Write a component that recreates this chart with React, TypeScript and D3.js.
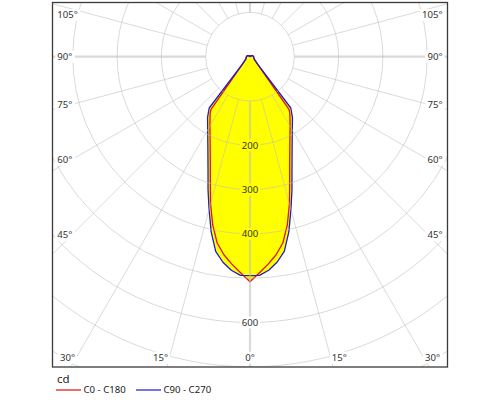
import { useEffect, useRef } from "react";
import * as d3 from "d3";

// Luminous intensity distribution, gamma in degrees from nadir, values in cd
const gammaC0 = [0, 2.5, 5, 7.5, 10, 12.5, 15, 17.5, 20, 25, 30, 35, 36.5, 45, 60, 75, 90, 105, 120, 135, 150, 165, 180];
const intensityC0 = [508, 488, 470, 451, 427, 389, 344, 298, 262, 213, 181, 157, 148, 24, 11, 9, 8, 7, 5, 3, 2, 1, 0];
const gammaC90 = [0, 2.5, 5, 7.5, 10, 12.5, 15, 17.5, 20, 25, 30, 35, 38.5, 45, 60, 75, 90, 105, 120, 135, 150, 165, 180];
const intensityC90 = [494, 494, 484, 468, 446, 405, 357, 315, 277, 225, 191, 167, 148, 26, 11, 9, 8, 7, 5, 3, 2, 1, 0];

const seriesNames = ["C0 - C180", "C90 - C270"];
const seriesColors = ["#e01010", "#1c1cd0"];

const ringValues = [100, 200, 300, 400, 500, 600, 700, 800];
const ringLabels = [200, 300, 400, 600];
const spokeAngles = [0, 15, 30, 45, 60, 75, 90, 105, 120, 135, 150, 165, 180, 195, 210, 225, 240, 255, 270, 285, 300, 315, 330, 345];
const angleLabels = [0, 15, 30, 45, 60, 75, 90, 105];
const unitLabel = "cd";

const FONT = "Tahoma, 'Noto Sans', sans-serif";

type Label = { text: string; x: number; y: number; anchor: "start" | "middle" | "end" };

export default function App() {
  const svgRef = useRef<SVGSVGElement | null>(null);

  useEffect(() => {
    if (!svgRef.current) return;
    const width = 500;
    const height = 400;
    const frame = { left: 52.5, top: 2.5, right: 447.5, bottom: 367 };
    const cx = 250;
    const cy = 56.7;
    const rad = Math.PI / 180;

    const svg = d3.select(svgRef.current);
    svg.selectAll("*").remove();
    svg.attr("width", width).attr("height", height);

    const r = d3.scaleLinear().domain([0, 100]).range([0, 44.3]);

    // labels first, grid gets masked around them
    const labels: Label[] = [];
    ringLabels.forEach((v) => labels.push({ text: String(v), x: cx, y: cy + r(v), anchor: "middle" }));
    angleLabels.forEach((a) => {
      const t = Math.tan(a * rad);
      if (a === 0) {
        labels.push({ text: "0°", x: cx, y: cy + 301, anchor: "middle" });
        return;
      }
      [-1, 1].forEach((side) => {
        if (a > 31) {
          const y = Math.max(cy + 178 / t, 15);
          labels.push({
            text: `${a}°`,
            x: side < 0 ? frame.left + 4.8 : frame.right - 4.8,
            y,
            anchor: side < 0 ? "start" : "end",
          });
        } else {
          labels.push({
            text: `${a}°`,
            x: cx + side * (301 * t + 1.2),
            y: cy + 301,
            anchor: side < 0 ? "end" : "start",
          });
        }
      });
    });

    const defs = svg.append("defs");
    defs
      .append("clipPath")
      .attr("id", "frame-clip")
      .append("rect")
      .attr("x", frame.left)
      .attr("y", frame.top)
      .attr("width", frame.right - frame.left)
      .attr("height", frame.bottom - frame.top);

    const mask = defs.append("mask").attr("id", "label-mask").attr("maskUnits", "userSpaceOnUse");
    mask.append("rect").attr("x", 0).attr("y", 0).attr("width", width).attr("height", height).attr("fill", "#fff");
    labels.forEach((l) => {
      const w = l.text.length * 5.2 + 4;
      const x0 = l.anchor === "start" ? l.x - 2 : l.anchor === "end" ? l.x - w + 2 : l.x - w / 2;
      mask.append("rect").attr("x", x0).attr("y", l.y - 6).attr("width", w).attr("height", 12).attr("fill", "#000");
    });

    const series = [
      { gamma: gammaC0, values: intensityC0 },
      { gamma: gammaC90, values: intensityC90 },
    ];

    const toPoints = (gamma: number[], values: number[]): [number, number][] => {
      const right = gamma.map((g, i) => [Math.PI - g * rad, r(values[i])] as [number, number]).reverse();
      const left = gamma.slice(1, -1).map((g, i) => [Math.PI + g * rad, r(values[i + 1])] as [number, number]);
      return [...right, ...left];
    };

    const line = d3
      .lineRadial<[number, number]>()
      .angle((d) => d[0])
      .radius((d) => d[1])
      .curve(d3.curveLinearClosed);

    const plot = svg.append("g").attr("transform", `translate(${cx},${cy})`);

    // Yellow fill of both planes
    plot
      .selectAll("path.fill")
      .data(series)
      .join("path")
      .attr("class", "fill")
      .attr("d", (d) => line(toPoints(d.gamma, d.values)))
      .attr("fill", "#ffff00")
      .attr("stroke", "none");

    // Grid
    const grid = svg
      .append("g")
      .attr("clip-path", "url(#frame-clip)")
      .append("g")
      .attr("mask", "url(#label-mask)")
      .append("g")
      .attr("transform", `translate(${cx},${cy})`)
      .attr("fill", "none")
      .attr("stroke", "#bcbcbc")
      .attr("stroke-opacity", 0.55);

    grid
      .selectAll("circle")
      .data(ringValues)
      .join("circle")
      .attr("r", (d) => r(d))
      .attr("stroke-width", 1);

    grid
      .selectAll("line")
      .data(spokeAngles)
      .join("line")
      .attr("x1", (d) => r(100) * Math.sin(d * rad))
      .attr("y1", (d) => r(100) * Math.cos(d * rad))
      .attr("x2", (d) => 600 * Math.sin(d * rad))
      .attr("y2", (d) => 600 * Math.cos(d * rad))
      .attr("stroke-width", (d) => (d % 90 === 0 ? 2.2 : 1));

    // Curves
    plot
      .selectAll("path.curve")
      .data(series)
      .join("path")
      .attr("class", "curve")
      .attr("d", (d) => line(toPoints(d.gamma, d.values)))
      .attr("fill", "none")
      .attr("stroke", (_, i) => seriesColors[i])
      .attr("stroke-width", 1.3)
      .attr("stroke-linejoin", "round");

    // Labels
    svg
      .append("g")
      .selectAll("text")
      .data(labels)
      .join("text")
      .attr("x", (d) => d.x)
      .attr("y", (d) => d.y)
      .attr("dy", "0.36em")
      .attr("text-anchor", (d) => d.anchor)
      .style("font-family", FONT)
      .style("font-size", "9.6px")
      .style("fill", "#333")
      .text((d) => d.text);

    // Frame
    svg
      .append("rect")
      .attr("x", frame.left)
      .attr("y", frame.top)
      .attr("width", frame.right - frame.left)
      .attr("height", frame.bottom - frame.top)
      .attr("fill", "none")
      .attr("stroke", "#3a3a3a")
      .attr("stroke-width", 1.3);

    // Legend
    svg
      .append("text")
      .attr("x", 57)
      .attr("y", 383)
      .style("font-family", FONT)
      .style("font-size", "11.5px")
      .style("fill", "#222")
      .text(unitLabel);

    const legend = svg
      .append("g")
      .selectAll("g")
      .data(seriesNames)
      .join("g")
      .attr("transform", (_, i) => `translate(${56 + i * 80},390)`);

    legend
      .append("line")
      .attr("x1", 0)
      .attr("x2", 25)
      .attr("stroke", (_, i) => seriesColors[i])
      .attr("stroke-width", 1.2);

    legend
      .append("text")
      .attr("x", 27.5)
      .attr("dy", "0.36em")
      .style("font-family", FONT)
      .style("font-size", "9.6px")
      .style("fill", "#222")
      .text((d) => d);
  }, []);

  return (
    <svg
      ref={svgRef}
      style={{ position: "absolute", left: 0, top: 0, display: "block", background: "#fff" }}
    />
  );
}
